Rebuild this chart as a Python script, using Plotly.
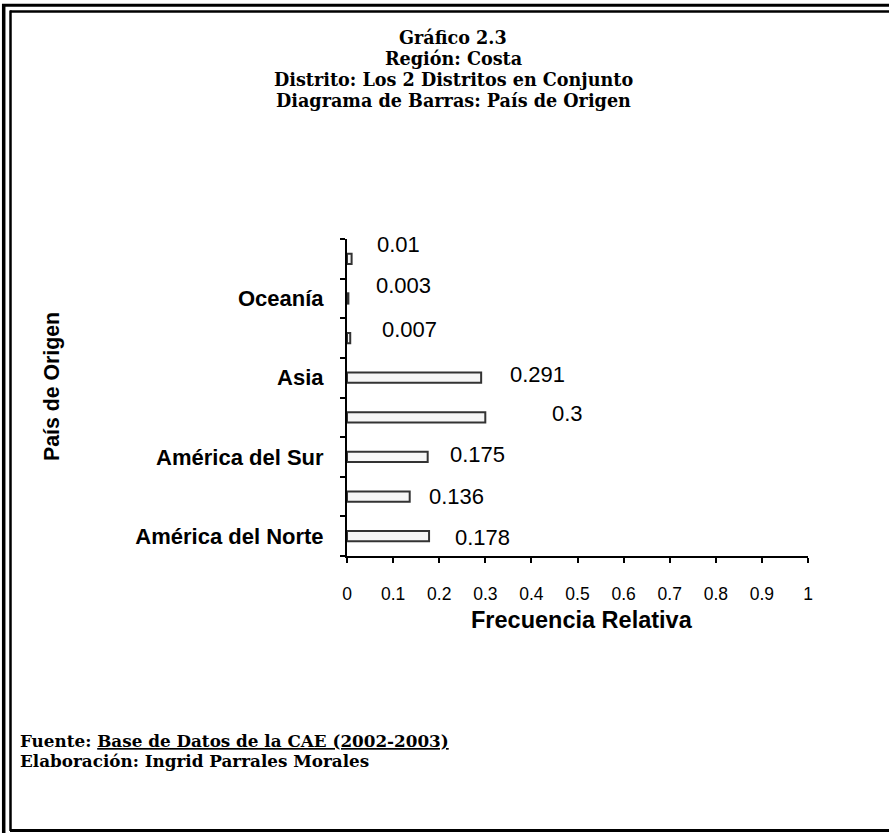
import plotly.graph_objects as go

# ---- data ----
categories = ["América del Norte", "cat2", "América del Sur", "cat4",
              "Asia", "cat6", "Oceanía", "cat8"]
tick_labels = ["América del Norte", "", "América del Sur", "",
               "Asia", "", "Oceanía", ""]
values = [0.178, 0.136, 0.175, 0.3, 0.291, 0.007, 0.003, 0.01]
value_labels = ["0.178", "0.136", "0.175", "0.3", "0.291", "0.007", "0.003", "0.01"]

title_lines = ["Gráfico 2.3", "Región: Costa",
               "Distrito: Los 2 Distritos en Conjunto",
               "Diagrama de Barras: País de Origen"]

# ---- styling (label offsets in px) ----
label_dx = [24, 17, 20, 65, 27, 30, 26, 23]
label_dy = [1, 0, -2, -4, -3, -9, -13, -14]

W, H = 889, 833
L, R, T, B = 347, 808, 239, 556
SERIF = "DejaVu Serif"


def px2x(px):
    return (px - L) / (R - L)


def px2y(py):
    return (B - py) / (B - T)


fig = go.Figure()
fig.add_trace(go.Bar(
    y=categories, x=values, orientation="h", width=0.26,
    marker=dict(color="#f6f6f6", line=dict(color="#333333", width=2)),
    hoverinfo="skip",
))

annotations = []
for cat, v, lab, dx, dy in zip(categories, values, value_labels, label_dx, label_dy):
    annotations.append(dict(
        x=v, y=cat, xref="x", yref="y", text=lab, showarrow=False,
        xanchor="left", yanchor="middle", xshift=dx, yshift=-dy,
        font=dict(family="Liberation Sans", size=22, color="black")))

title_y = [37, 58, 79, 100]
for line, py in zip(title_lines, title_y):
    annotations.append(dict(
        x=px2x(453), y=px2y(py), xref="paper", yref="paper", text="<b>" + line + "</b>",
        showarrow=False, xanchor="center", yanchor="middle",
        font=dict(family=SERIF, size=17.6, color="black")))

annotations.append(dict(
    x=px2x(582), y=px2y(620), xref="paper", yref="paper", text="<b>Frecuencia Relativa</b>",
    showarrow=False, xanchor="center", yanchor="middle",
    font=dict(family="Liberation Sans", size=23.5, color="black")))
annotations.append(dict(
    x=px2x(52), y=px2y(387), xref="paper", yref="paper", text="<b>País de Origen</b>",
    showarrow=False, xanchor="center", yanchor="middle", textangle=-90,
    font=dict(family="Liberation Sans", size=21.3, color="black")))
annotations.append(dict(
    x=px2x(18), y=px2y(741), xref="paper", yref="paper",
    text="<b>Fuente: <u>Base de Datos de la CAE (2002-2003)</u></b>",
    showarrow=False, xanchor="left", yanchor="middle",
    font=dict(family=SERIF, size=16.8, color="black")))
annotations.append(dict(
    x=px2x(18), y=px2y(761), xref="paper", yref="paper",
    text="<b>Elaboración: Ingrid Parrales Morales</b>",
    showarrow=False, xanchor="left", yanchor="middle",
    font=dict(family=SERIF, size=16.8, color="black")))

# border lines (double frame, cropped at right/bottom)
shapes = [
    dict(type="line", xref="paper", yref="paper", x0=px2x(2), x1=px2x(889), y0=px2y(5.3), y1=px2y(5.3),
         line=dict(color="black", width=3)),
    dict(type="line", xref="paper", yref="paper", x0=px2x(10), x1=px2x(889), y0=px2y(11.5), y1=px2y(11.5),
         line=dict(color="black", width=2.5)),
    dict(type="line", xref="paper", yref="paper", x0=px2x(3.7), x1=px2x(3.7), y0=px2y(4), y1=px2y(833),
         line=dict(color="black", width=3.5)),
    dict(type="line", xref="paper", yref="paper", x0=px2x(10.5), x1=px2x(10.5), y0=px2y(10.5), y1=px2y(831),
         line=dict(color="black", width=2.5)),
    dict(type="line", xref="paper", yref="paper", x0=px2x(10), x1=px2x(889), y0=px2y(830.5), y1=px2y(830.5),
         line=dict(color="black", width=3)),
]

fig.update_layout(
    width=W, height=H,
    margin=dict(l=L, r=W - R, t=T, b=H - B, pad=0),
    paper_bgcolor="white", plot_bgcolor="white",
    showlegend=False,
    annotations=annotations, shapes=shapes,
    xaxis=dict(range=[0, 1], dtick=0.1, tick0=0, showgrid=False, zeroline=False,
               showline=True, linecolor="black", linewidth=2,
               ticks="outside", ticklen=5, tickwidth=2, tickcolor="black",
               ticklabelstandoff=16,
               tickfont=dict(family="Liberation Sans", size=17.5, color="black")),
    yaxis=dict(type="category", categoryorder="array", categoryarray=categories,
               range=[-0.5, 7.5], showgrid=False, zeroline=False,
               showline=True, linecolor="black", linewidth=2,
               ticks="outside", ticklen=5, tickwidth=2, tickcolor="black",
               tickson="boundaries",
               tickvals=categories, ticktext=tick_labels,
               ticklabelstandoff=17,
               tickfont=dict(family="Liberation Sans", size=22, color="black", weight="bold")),
)

fig.write_html("out.html", config={"displayModeBar": False},
               post_script="document.body.style.margin='0';document.body.style.overflow='hidden';")
